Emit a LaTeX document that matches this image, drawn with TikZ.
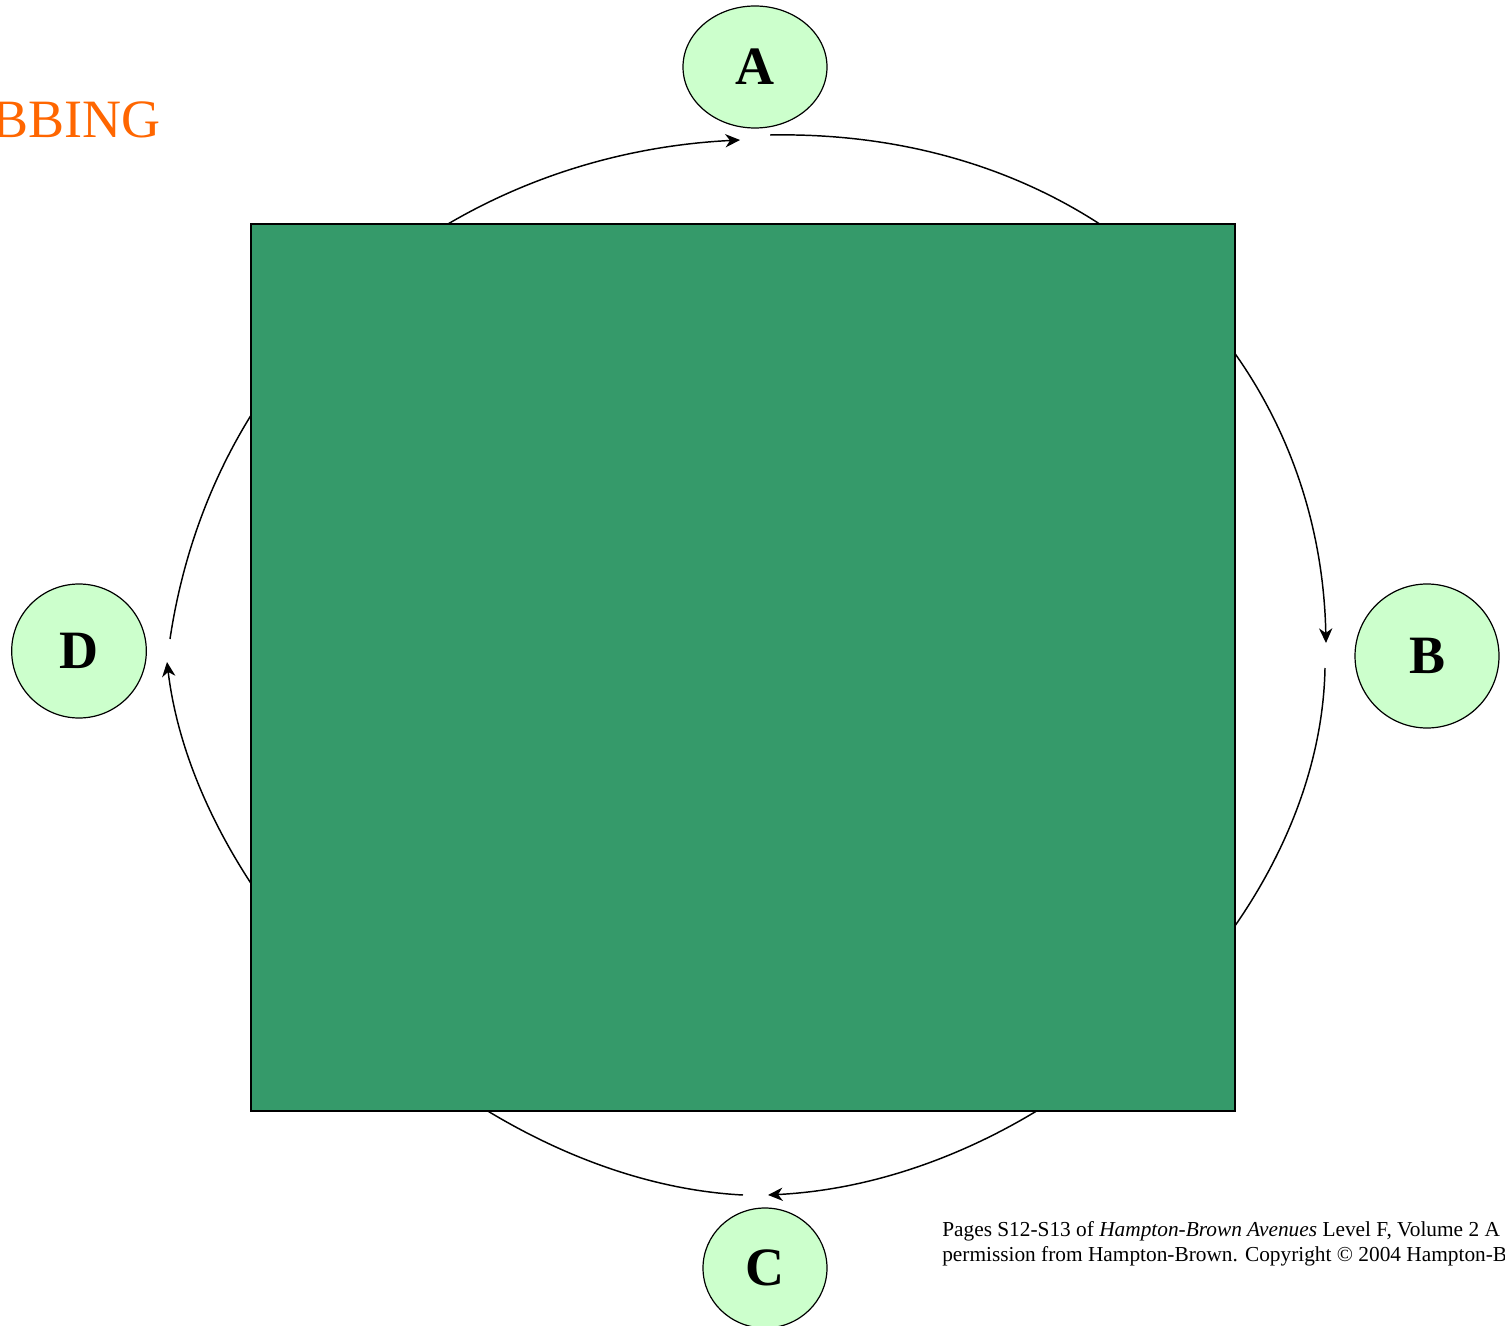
\documentclass[tikz,border=0pt]{standalone}
\usepackage{fontspec}
\setmainfont{Liberation Serif}
\usetikzlibrary{shapes.geometric, arrows.meta}
\definecolor{nodegreen}{HTML}{CCFFCC}
\definecolor{boardgreen}{HTML}{359A6A}
\definecolor{titleorange}{HTML}{FF6600}

\begin{document}
\begin{tikzpicture}[x=0.75pt, y=-0.75pt,
  stage/.style={ellipse, draw=black, line width=0.9pt, fill=nodegreen,
    inner sep=0pt, font=\fontsize{40.5}{48}\selectfont\bfseries},
  flow/.style={line width=1.1pt, -{Stealth[length=11pt, width=10pt, inset=3.5pt]}}]

  \useasboundingbox (0,0) rectangle (1505,1326);

  % Ends of the arcs, next to the stages
  \coordinate (dOut) at (170,639);
  \coordinate (aIn)  at (740,140);
  \coordinate (aOut) at (770,135);
  \coordinate (bIn)  at (1326,643);
  \coordinate (bOut) at (1325,668);
  \coordinate (cIn)  at (768,1195);
  \coordinate (cOut) at (743,1195);
  \coordinate (dIn)  at (167,662);

  % 1. arcs of the cycle, clockwise
  \draw[flow] (dOut) .. controls +(45,-300) and +(-280,14) .. (aIn);
  \draw[flow] (aOut) .. controls +(325,-6) and +(-6,-290) .. (bIn);
  \draw[flow] (bOut) .. controls +(-5,260) and +(280,-14) .. (cIn);
  \draw[flow] (cOut) .. controls +(-270,-14) and +(30,250) .. (dIn);

  % 2. board in the middle
  \filldraw[fill=boardgreen, draw=black, line width=0.9pt]
    (251,224) rectangle (1235,1111);

  % 3. stages
  \node[stage, minimum width=108pt, minimum height=91.5pt] (A) at (755,67) {A};
  \node[stage, minimum width=108pt, minimum height=108pt] (B) at (1427,656) {B};
  \node[stage, minimum width=93pt, minimum height=90pt] (C) at (765,1268) {C};
  \node[stage, minimum width=101pt, minimum height=100.5pt] (D) at (79,651) {D};

  % Title and source
  \node[anchor=base east, inner sep=0pt, text=titleorange,
        font=\fontsize{40.5}{48}\selectfont] (title) at (161,138) {BBING};
  \node[anchor=base west, align=left, inner sep=0pt,
        font=\fontsize{16}{18.75}\selectfont] (source) at (942,1261)
    {Pages S12-S13 of \textit{Hampton-Brown Avenues} Level F, Volume 2 A\\
     permission from Hampton-Brown. Copyright © 2004 Hampton-B};

\end{tikzpicture}
\end{document}
